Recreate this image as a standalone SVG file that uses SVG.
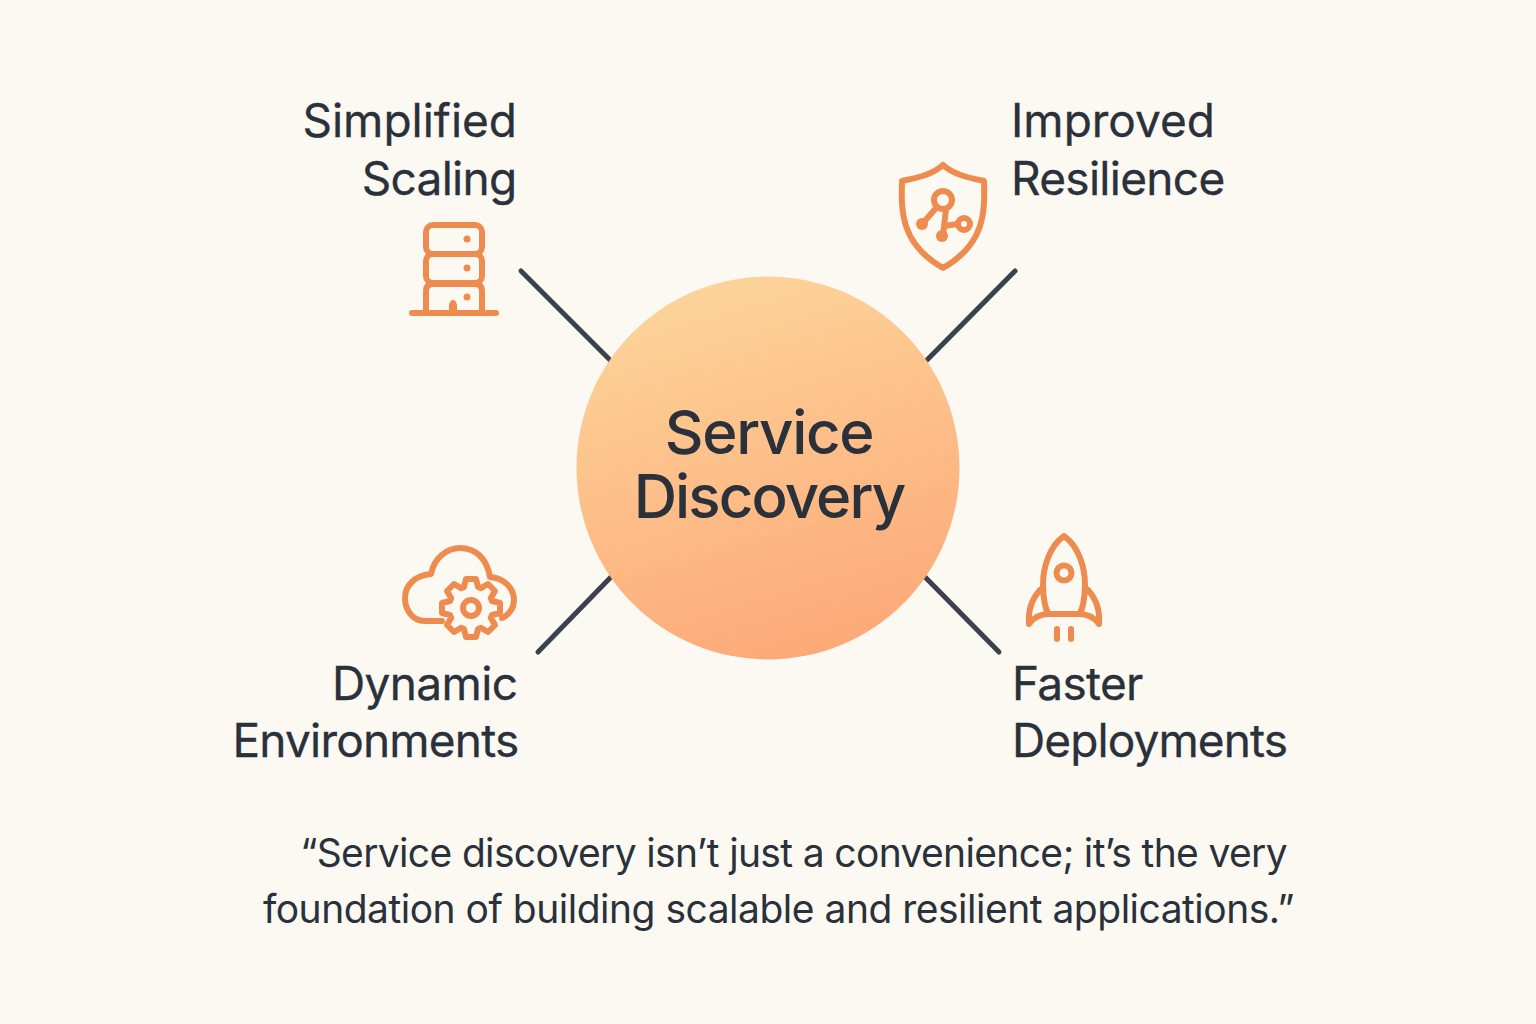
<svg xmlns="http://www.w3.org/2000/svg" width="1536" height="1024" viewBox="0 0 1536 1024">
<defs>
<linearGradient id="g" x1="0.35" y1="0" x2="0.65" y2="1"><stop offset="0" stop-color="#fdd49a"/><stop offset="1" stop-color="#fda877"/></linearGradient>
</defs>
<style>
text{font-family:Inter,"Liberation Sans",sans-serif;fill:#2a313a}
.l{font-size:46px;font-weight:400;stroke:#2a313a;stroke-width:.3px}
.e{text-anchor:end}
.c{font-size:60px;font-weight:500;text-anchor:middle}
.q{font-size:39px;text-anchor:end}
.i{fill:none;stroke:#ee8c4f;stroke-width:6;stroke-linecap:round;stroke-linejoin:round}
.f{fill:#ee8c4f;stroke:none}
.k{stroke:#3a424c;stroke-width:5;stroke-linecap:round;fill:none}
</style>
<rect width="1536" height="1024" fill="#fcf9f3"/>
<g id="connectors">
<line class="k" x1="521" y1="271" x2="610" y2="360"/>
<line class="k" x1="1015" y1="271" x2="927" y2="360"/>
<line class="k" x1="611" y1="577" x2="538" y2="652"/>
<line class="k" x1="925" y1="577" x2="999" y2="652"/>
</g>
<g id="center">
<circle cx="768" cy="468" r="191.500" fill="url(#g)"/>
<text class="c" x="769" y="454" letter-spacing="-1.300">Service</text>
<text class="c" x="769" y="518" letter-spacing="-1.900">Discovery</text>
</g>
<g id="simplified-scaling">
<text class="l e" x="517" y="137">Simplified</text>
<text class="l e" x="516.500" y="195" letter-spacing="-0.700">Scaling</text>
<g class="i">
<rect x="426" y="225" width="56" height="29" rx="7"/>
<rect x="426" y="254" width="56" height="29" rx="7"/>
<path d="M426 312V291q0-7 7-7h42q7 0 7 7v21"/>
<path d="M412 313H496"/>
<path d="M451 311v-6q2-6 4 0v6" stroke-width="4"/>
</g>
<circle class="f" cx="467" cy="239" r="3.500"/><circle class="f" cx="467" cy="268" r="3.500"/><circle class="f" cx="467" cy="297" r="3.500"/>
</g>
<g id="improved-resilience">
<text class="l" x="1011" y="137">Improved</text>
<text class="l" x="1011" y="195" letter-spacing="-0.700">Resilience</text>
<path class="i" d="M943 165C932 175 916 178 902 181C901 212 901 244 943 268C985 244 985 212 984 181C970 178 954 175 943 165Z"/>
<g class="i">
<circle cx="943" cy="200" r="9"/>
<circle cx="964" cy="224" r="6"/>
<path d="M937 207L923 223M946 209L943 235M945 226L957 224"/>
</g>
<circle class="f" cx="922" cy="224" r="6"/><circle class="f" cx="942" cy="236" r="6"/>
</g>
<g id="dynamic-environments">
<text class="l e" x="517.500" y="700" letter-spacing="-0.600">Dynamic</text>
<text class="l e" x="518.500" y="757" letter-spacing="-0.800">Environments</text>
<path class="i" d="M442 621H425C411 621 405 608 405 598C405 584 417 575 431 574C434 558 447 548 460 548C476 548 487 559 490 577C504 578 514 588 514 600C514 608 509 615 502 618"/>
<path class="i" transform="translate(471 608)" stroke-width="5" d="M-7-21L-5-29L5-29L7-21L9.900-19.800L17-24L24-17L19.800-9.900L21-7L29-5L29 5L21 7L19.800 9.900L24 17L17 24L9.900 19.800L7 21L5 29L-5 29L-7 21L-9.900 19.800L-17 24L-24 17L-19.800 9.900L-21 7L-29 5L-29-5L-21-7L-19.800-9.900L-24-17L-17-24L-9.900-19.800Z"/>
<circle class="i" cx="471" cy="608" r="8"/>
</g>
<g id="faster-deployments">
<text class="l" x="1012" y="700" letter-spacing="-0.700">Faster</text>
<text class="l" x="1012" y="757" letter-spacing="-0.900">Deployments</text>
<g class="i">
<path d="M1064 536C1050 546 1043 566 1043 585C1043 600 1046 611 1049 614H1079C1082 611 1085 600 1085 585C1085 566 1078 546 1064 536Z"/>
<circle cx="1064" cy="573" r="7.500"/>
<path d="M1040 590C1031 600 1028 612 1029 624C1034 617 1041 614 1049 614M1088 590C1097 600 1100 612 1099 624C1094 617 1087 614 1079 614"/>
<path d="M1057 629V639M1071 629V639"/>
</g>
</g>
<g id="quote">
<text class="q" x="1287" y="867" letter-spacing="-0.650">“Service discovery isn’t just a convenience; it’s the very</text>
<text class="q" x="1294" y="923" letter-spacing="-0.500">foundation of building scalable and resilient applications.”</text>
</g>
</svg>
